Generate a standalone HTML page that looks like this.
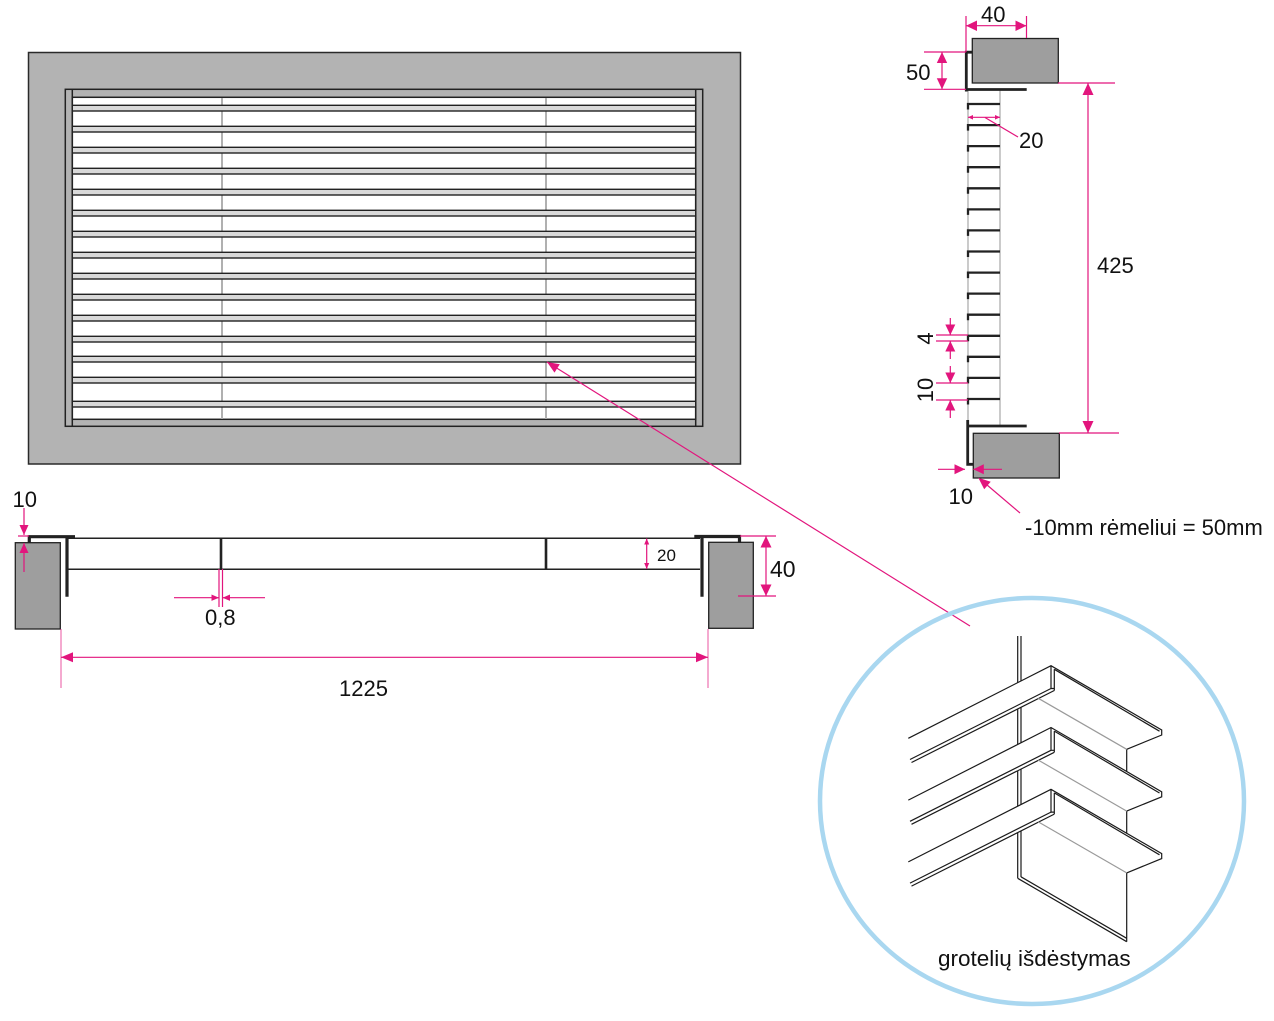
<!DOCTYPE html>
<html><head><meta charset="utf-8"><style>
html,body{margin:0;padding:0;background:#fff;}
svg{display:block;}
text{font-family:"Liberation Sans",Arial,sans-serif;fill:#111;}
</style></head><body>
<svg width="1274" height="1021" viewBox="0 0 1274 1021" xmlns="http://www.w3.org/2000/svg">
<rect x="0" y="0" width="1274" height="1021" fill="#fff"/>

<!-- FRONT VIEW -->
<rect x="28.5" y="52.5" width="712" height="411.5" fill="#b3b3b3" stroke="#2a2a2a" stroke-width="1.5"/>
<rect x="65.3" y="89.3" width="637.4" height="337" fill="#b3b3b3" stroke="#222" stroke-width="1.5"/>
<rect x="72.3" y="97.3" width="623.4" height="322" fill="#fff" stroke="#222" stroke-width="1.5"/>
<line x1="72.3" y1="89.3" x2="72.3" y2="426.3" stroke="#222" stroke-width="1.5"/>
<line x1="695.7" y1="89.3" x2="695.7" y2="426.3" stroke="#222" stroke-width="1.5"/>
<line x1="222" y1="98" x2="222" y2="419" stroke="#b0b0b0" stroke-width="2"/>
<line x1="546" y1="98" x2="546" y2="419" stroke="#b0b0b0" stroke-width="2"/>
<g fill="#d9d9d9" stroke="#222" stroke-width="1.4">
<rect x="72.3" y="105.3" width="623.4" height="5.7"/>
<rect x="72.3" y="126.3" width="623.4" height="5.7"/>
<rect x="72.3" y="147.3" width="623.4" height="5.7"/>
<rect x="72.3" y="168.3" width="623.4" height="5.7"/>
<rect x="72.3" y="189.3" width="623.4" height="5.7"/>
<rect x="72.3" y="210.3" width="623.4" height="5.7"/>
<rect x="72.3" y="231.3" width="623.4" height="5.7"/>
<rect x="72.3" y="252.3" width="623.4" height="5.7"/>
<rect x="72.3" y="273.3" width="623.4" height="5.7"/>
<rect x="72.3" y="294.3" width="623.4" height="5.7"/>
<rect x="72.3" y="315.3" width="623.4" height="5.7"/>
<rect x="72.3" y="336.3" width="623.4" height="5.7"/>
<rect x="72.3" y="356.3" width="623.4" height="5.7"/>
<rect x="72.3" y="377.3" width="623.4" height="5.7"/>
<rect x="72.3" y="401.3" width="623.4" height="5.7"/>
</g>

<!-- RIGHT SECTION -->
<rect x="972.3" y="38.5" width="86" height="44.5" fill="#9e9e9e" stroke="#222" stroke-width="1.3"/>
<rect x="973.3" y="433.3" width="86" height="44.7" fill="#9e9e9e" stroke="#222" stroke-width="1.3"/>
<line x1="968" y1="90" x2="968" y2="426" stroke="#a8a8a8" stroke-width="1.2"/>
<line x1="1000" y1="90" x2="1000" y2="426" stroke="#a8a8a8" stroke-width="1.2"/>
<g stroke="#222" stroke-width="2.8" fill="none">
<path d="M972.5,52.2 H966.3 V91.5 M966.3,89.5 H1026.7"/>
<path d="M967.7,420 V464.3 H973 M967.7,426 H1026.7"/>
</g>
<g stroke="#222" stroke-width="2.3" fill="none">
<path d="M968,109.5 V104 H1000"/>
<path d="M968,130.6 V125.1 H1000"/>
<path d="M968,151.6 V146.1 H1000"/>
<path d="M968,172.7 V167.2 H1000"/>
<path d="M968,193.8 V188.3 H1000"/>
<path d="M968,214.9 V209.4 H1000"/>
<path d="M968,235.9 V230.4 H1000"/>
<path d="M968,257 V251.5 H1000"/>
<path d="M968,278.1 V272.6 H1000"/>
<path d="M968,299.1 V293.6 H1000"/>
<path d="M968,320.2 V314.7 H1000"/>
<path d="M968,341.3 V335.8 H1000"/>
<path d="M968,362.3 V356.8 H1000"/>
<path d="M968,383.4 V377.9 H1000"/>
<path d="M968,404.5 V399 H1000"/>
</g>

<!-- right section dimensions -->
<g stroke="#e2157d" stroke-width="1.2" fill="none">
<path d="M966,16 V52 M1026.5,16 V38"/>
<path d="M966,25.7 H1026.5"/>
<path d="M924,52 H966 M924,89.3 H966"/>
<path d="M942,52 V89.3"/>
<path d="M968,117.3 H1000"/>
<path d="M985,117.5 L1018,137"/>
<path d="M1058,83 H1115 M1059,433 H1119"/>
<path d="M1088,83 V433"/>
<path d="M950.3,318 V335 M950.3,341 V359"/>
<path d="M936,335 H968 M936,341 H968"/>
<path d="M950.3,366 V383 M950.3,400 V418"/>
<path d="M936,383 H968 M936,400 H968"/>
<path d="M938,469.3 H965 M973.3,469.3 H1002"/>
<path d="M980,479 L1020,513"/>
</g>
<g fill="#e2157d">
<polygon points="966,25.7 977,20.5 977,31"/>
<polygon points="1026.5,25.7 1015.5,20.5 1015.5,31"/>
<polygon points="942,52 936.8,63 947.2,63"/>
<polygon points="942,89.3 936.8,78.3 947.2,78.3"/>
<polygon points="968,117.3 973,115 973,119.6"/>
<polygon points="1000,117.3 995,115 995,119.6"/>
<polygon points="1088,83 1082.5,95 1093.5,95"/>
<polygon points="1088,433 1082.5,421 1093.5,421"/>
<polygon points="950.3,335 945.3,324.5 955.3,324.5"/>
<polygon points="950.3,341 945.3,351.5 955.3,351.5"/>
<polygon points="950.3,383 945.3,372.5 955.3,372.5"/>
<polygon points="950.3,400 945.3,410.5 955.3,410.5"/>
<polygon points="965,469.3 954.5,464.3 954.5,474.3"/>
<polygon points="973.3,469.3 983.8,464.3 983.8,474.3"/>
<polygon points="978.3,477.7 984.2,489.3 990.7,481.7"/>
</g>
<text x="981" y="22" font-size="22">40</text>
<text x="906" y="80" font-size="22">50</text>
<text x="1019" y="148" font-size="22">20</text>
<text x="1097" y="273" font-size="22">425</text>
<text transform="translate(933,338.5) rotate(-90)" text-anchor="middle" font-size="22">4</text>
<text transform="translate(933,390) rotate(-90)" text-anchor="middle" font-size="22">10</text>
<text x="948.5" y="504" font-size="22">10</text>
<text x="1025" y="535" font-size="22">-10mm rėmeliui = 50mm</text>

<!-- BOTTOM SECTION VIEW -->
<rect x="15.3" y="542.7" width="45" height="86.3" fill="#9e9e9e" stroke="#222" stroke-width="1.3"/>
<rect x="708.7" y="542.3" width="44.6" height="86" fill="#9e9e9e" stroke="#222" stroke-width="1.3"/>
<path d="M67,538.3 H700 M67,569.3 H700" stroke="#222" stroke-width="1.5" fill="none"/>
<g stroke="#222" stroke-width="3.2" fill="none">
<path d="M29.3,543 V536.7 H75 M67,536.7 V596.7"/>
<path d="M694.3,536.5 H739.5 V543 M702,536.5 V596.7"/>
</g>
<path d="M221,538 V569.8 M546,538 V569.8" stroke="#222" stroke-width="2.6" fill="none"/>

<g stroke="#e2157d" stroke-width="1.2" fill="none">
<path d="M24,508 V535 M24,543 V572"/>
<path d="M18,536 H29"/>
<path d="M219,569 V607 M222.5,569 V607"/>
<path d="M174,597.7 H219 M222.5,597.7 H265"/>
<path d="M61,657.3 H708"/>
<path d="M61,629 V688 M708,629 V688" stroke-opacity="0.6"/>
<path d="M646.7,538.5 V569"/>
<path d="M740,536 H776 M738,596 H776"/>
<path d="M766,536 V596"/>
<path d="M547,362 L970,626"/>
</g>
<g fill="#e2157d">
<polygon points="24,535 19.5,525 28.5,525"/>
<polygon points="24,543 19.5,553 28.5,553"/>
<polygon points="219,597.7 211.5,594.5 211.5,600.9"/>
<polygon points="222.5,597.7 230,594.5 230,600.9"/>
<polygon points="61,657.3 73,652.3 73,662.3"/>
<polygon points="708,657.3 696,652.3 696,662.3"/>
<polygon points="646.7,538.5 644.2,544.5 649.2,544.5"/>
<polygon points="646.7,569 644.2,563 649.2,563"/>
<polygon points="766,536 760.5,547.5 771.5,547.5"/>
<polygon points="766,596 760.5,584.5 771.5,584.5"/>
<polygon points="547,362 554.5,372.6 559.8,364.2"/>
</g>
<text x="12.5" y="507" font-size="22">10</text>
<text x="205" y="625" font-size="22">0,8</text>
<text x="339" y="696" font-size="22">1225</text>
<text x="657" y="561" font-size="17">20</text>
<text x="770" y="577" font-size="23">40</text>

<!-- DETAIL CIRCLE -->
<ellipse cx="1032" cy="801" rx="212" ry="203" fill="none" stroke="#a9d7f0" stroke-width="4.5"/>
<g stroke="#1a1a1a" stroke-width="1.2" fill="none">
<path d="M1017.7,636 V682.6 M1021,636 V681"/>
<path d="M1017.7,709 V744.4 M1021,707.3 V742.8"/>
<path d="M1017.7,770.8 V806.2 M1021,769.1 V804.6"/>
<path d="M1017.7,832.6 V878.3 M1021,830.9 V877"/>
<path d="M1017.7,878.3 L1126.7,941.7 M1021,876.8 L1126.7,938.3"/>
<path d="M1126.7,749.3 V771.5 M1126.7,811.1 V833.3 M1126.7,872.9 V941.7"/>
<g>
<path d="M908.3,738.3 L1051,665.7 L1161.7,730 V735 L1126.7,749.3"/>
<path d="M1054.3,669.3 L1159.5,731.2"/>
<path d="M1051,665.7 V688.5 M1054.3,669.3 V690.5 M1051,688.5 H1054.3"/>
<path d="M1051,688.5 L910,759.5 M1054.3,690.5 L911.5,762.5"/>
<path d="M1126.7,749.3 L1038.3,698.3" stroke="#9a9a9a"/>
</g>
<g transform="translate(0,61.8)">
<path d="M908.3,738.3 L1051,665.7 L1161.7,730 V735 L1126.7,749.3"/>
<path d="M1054.3,669.3 L1159.5,731.2"/>
<path d="M1051,665.7 V688.5 M1054.3,669.3 V690.5 M1051,688.5 H1054.3"/>
<path d="M1051,688.5 L910,759.5 M1054.3,690.5 L911.5,762.5"/>
<path d="M1126.7,749.3 L1038.3,698.3" stroke="#9a9a9a"/>
</g>
<g transform="translate(0,123.6)">
<path d="M908.3,738.3 L1051,665.7 L1161.7,730 V735 L1126.7,749.3"/>
<path d="M1054.3,669.3 L1159.5,731.2"/>
<path d="M1051,665.7 V688.5 M1054.3,669.3 V690.5 M1051,688.5 H1054.3"/>
<path d="M1051,688.5 L910,759.5 M1054.3,690.5 L911.5,762.5"/>
<path d="M1126.7,749.3 L1038.3,698.3" stroke="#9a9a9a"/>
</g>
</g>
<text x="938" y="966" font-size="22.5">grotelių išdėstymas</text>
</svg>
</body></html>
